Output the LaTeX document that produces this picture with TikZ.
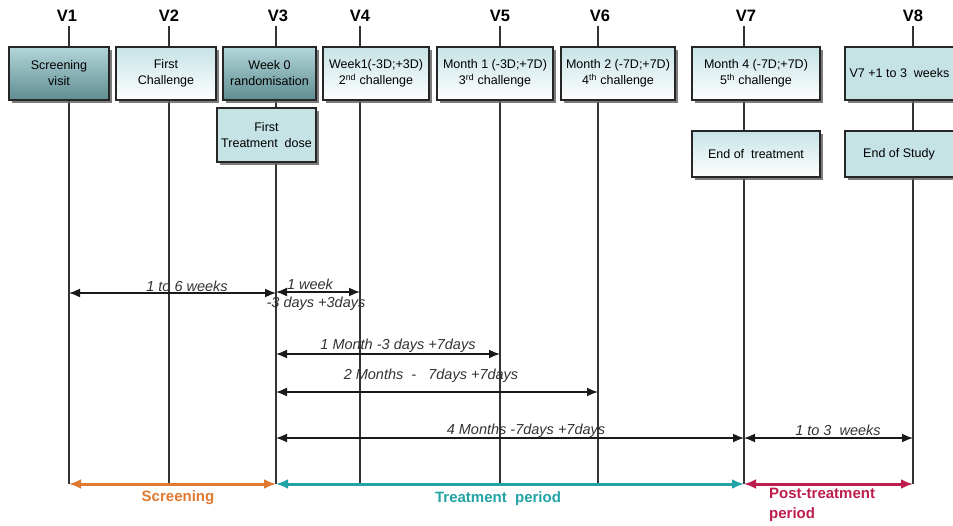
\documentclass[tikz,border=0pt]{standalone}
\usepackage{fontspec}
\setmainfont{Liberation Sans}
\usetikzlibrary{arrows.meta,shadows}
\definecolor{tealdark}{HTML}{5F8D91}
\definecolor{teallight}{HTML}{B3D6D9}
\definecolor{tealpale}{HTML}{C6E3E6}
\definecolor{orangec}{HTML}{E07A30}
\definecolor{tealc}{HTML}{22A3A6}
\definecolor{crimc}{HTML}{BE1E4E}
\definecolor{labgray}{HTML}{333333}
\tikzset{
  vlab/.style={font=\fontsize{16.5}{18}\selectfont\bfseries, inner sep=0pt},
  vline/.style={draw=black!80, line width=1.2pt},
  boxbase/.style={draw=black!85, line width=1.3pt, align=center, inner sep=1pt,
     font=\fontsize{12.5}{16}\selectfont,
     drop shadow={shadow xshift=3pt, shadow yshift=-3pt, fill=black!60, opacity=0.85}},
  darkbox/.style={boxbase, top color=teallight, bottom color=tealdark},
  lightbox/.style={boxbase, top color=tealpale, bottom color=white},
  solidbox/.style={boxbase, fill=tealpale!95!teallight},
  dur/.style={line width=1.6pt, black!90, {Latex[length=11pt,width=9pt]}-{Latex[length=11pt,width=9pt]}},
  durlab/.style={font=\fontsize{14.5}{16}\selectfont\itshape, text=labgray, inner sep=0pt},
  period/.style={line width=3pt, {Latex[length=12pt,width=10pt]}-{Latex[length=12pt,width=10pt]}},
  perlab/.style={font=\fontsize{15}{20}\selectfont\bfseries, inner sep=0pt},
}
\begin{document}
\begin{tikzpicture}[x=1pt,y=-1pt]
\clip (0,0) rectangle (953,525);
\fill[white] (0,0) rectangle (953,525);
% visit labels
\node[vlab] (V1) at (67,16) {V1};
\node[vlab] (V2) at (169,16) {V2};
\node[vlab] (V3) at (278,16) {V3};
\node[vlab] (V4) at (360,16) {V4};
\node[vlab] (V5) at (500,16) {V5};
\node[vlab] (V6) at (600,16) {V6};
\node[vlab] (V7) at (746,16) {V7};
\node[vlab] (V8) at (913,16) {V8};
% bottom coordinates
\coordinate (e1) at (69,484);
\coordinate (e2) at (169,484);
\coordinate (e3) at (276,484);
\coordinate (e4) at (360,484);
\coordinate (e5) at (500,484);
\coordinate (e6) at (598,484);
\coordinate (e7) at (744,484);
\coordinate (e8) at (913,484);
\foreach \i in {1,...,8} {\draw[vline] (e\i |- V\i.south) ++(0,4) -- (e\i);}
% boxes row 1
\node[darkbox, minimum width=100pt, minimum height=53pt] (b1) at (59,73.5) {Screening\\visit};
\node[lightbox, minimum width=100pt, minimum height=53pt] (b2) at (166,73.5) {First\\Challenge};
\node[darkbox, minimum width=93pt, minimum height=53pt] (b3) at (269.5,73.5) {Week 0\\randomisation};
\node[lightbox, minimum width=106pt, minimum height=53pt] (b4) at (376,73.5) {Week1(-3D;+3D)\\2\textsuperscript{nd} challenge};
\node[lightbox, minimum width=116pt, minimum height=53pt] (b5) at (495,73.5) {Month 1 (-3D;+7D)\\3\textsuperscript{rd} challenge};
\node[lightbox, minimum width=114pt, minimum height=53pt] (b6) at (618,73.5) {Month 2 (-7D;+7D)\\4\textsuperscript{th} challenge};
\node[lightbox, minimum width=128pt, minimum height=53pt] (b7) at (756,73.5) {Month 4 (-7D;+7D)\\5\textsuperscript{th} challenge};
\node[solidbox, minimum width=136pt, minimum height=53pt] (b8) at (913,73.5) {V7 +1 to 3\ \ weeks\hspace*{27pt}};
% boxes row 2
\node[solidbox, minimum width=99pt, minimum height=54pt] (t3) at (266.5,135) {First\\Treatment\ \ dose};
\node[lightbox, minimum width=128pt, minimum height=46pt] (t7) at (756,154) {End of\ \ treatment};
\node[solidbox, minimum width=136pt, minimum height=46pt] (t8) at (913,154) {End of Study\hspace*{28pt}};
% duration arrows
\coordinate (a1) at (69,293);  \coordinate (a3) at (276,293);
\coordinate (c3) at (276,292); \coordinate (c4) at (360,292);
\coordinate (m3) at (276,354); \coordinate (m5) at (500,354);
\coordinate (n3) at (276,392); \coordinate (n6) at (598,392);
\coordinate (p3) at (276,438); \coordinate (p7) at (744,438);
\coordinate (q7) at (744,438); \coordinate (q8) at (913,438);
\draw[dur] (a1) -- (a3);
\draw[dur] (c3) -- (c4);
\draw[dur] (m3) -- (m5);
\draw[dur] (n3) -- (n6);
\draw[dur] (p3) -- (p7);
\draw[dur] (q7) -- (q8);
\node[durlab] (l1) at (187,286) {1 to 6 weeks};
\node[durlab] (l2) at (310,284) {1 week};
\node[durlab] (l3) at (316,304) {-3 days +3days};
\node[durlab] (l4) at (398,346) {1 Month -3 days +7days};
\node[durlab] (l5) at (431,376) {2 Months\ \ -\ \ \ 7days +7days};
\node[durlab] (l6) at (526,431) {4 Months -7days +7days};
\node[durlab] (l7) at (838,430) {1 to 3\ \ weeks};
% period arrows
\draw[period, orangec] (e1) -- (e3);
\draw[period, tealc] (e3) -- (e7);
\draw[period, crimc] (e7) -- (e8);
\node[perlab, text=orangec] (s1) at (178,498) {Screening};
\node[perlab, text=tealc] (s2) at (498,499) {Treatment\ \ period};
\node[perlab, text=crimc, align=left, anchor=north west] (s3) at (769,488) {Post-treatment\\period};
\end{tikzpicture}
\end{document}
